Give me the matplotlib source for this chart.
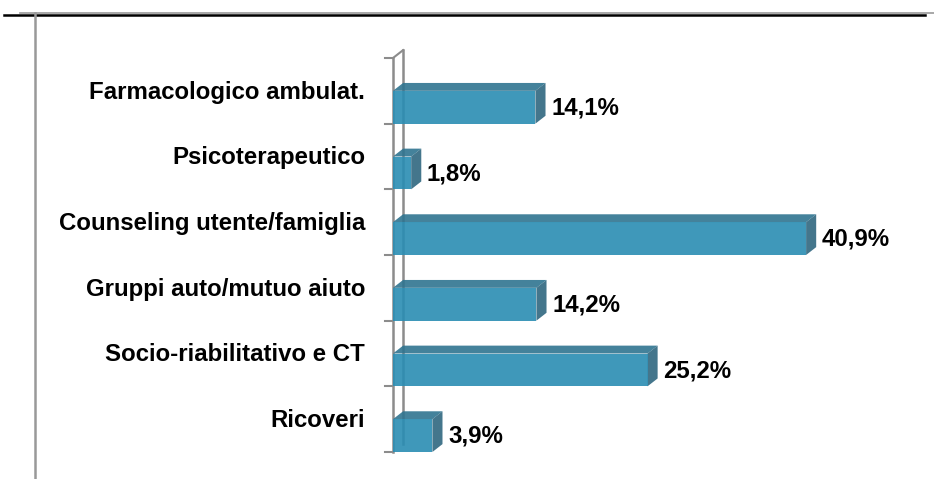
import matplotlib
matplotlib.use("Agg")
import matplotlib.pyplot as plt
from matplotlib.patches import Polygon, Rectangle
from matplotlib.lines import Line2D

# dati (dal basso verso l'alto)
categorie = ["Ricoveri", "Socio-riabilitativo e CT", "Gruppi auto/mutuo aiuto",
             "Counseling utente/famiglia", "Psicoterapeutico", "Farmacologico ambulat."]
valori = [3.9, 25.2, 14.2, 40.9, 1.8, 14.1]
etichette = ["3,9%", "25,2%", "14,2%", "40,9%", "1,8%", "14,1%"]

c_fronte = "#2a8db3"
c_sopra = "#2f7490"
c_lato = "#2f6780"
c_muro = "#8c8c8c"
font = ["Liberation Sans", "DejaVu Sans"]

W, H = 934, 479
fig = plt.figure(figsize=(W / 100, H / 100), dpi=100)

# cornice esterna (solo decorazione)
fig.add_artist(Line2D([20 / W, 1], [1 - 13 / H] * 2, color="#999999", lw=1.2))
fig.add_artist(Line2D([4 / W, 925 / W], [1 - 15 / H] * 2, color="black", lw=1.8))
fig.add_artist(Line2D([35 / W] * 2, [0, 1 - 13 / H], color="#999999", lw=1.8))

ax = fig.add_axes([393 / W, 1 - 452 / H, 505 / W, 394 / H])
ax.set_xlim(0, 50)
ax.set_ylim(0, 6)
ax.axis("off")

dx, dy, h = 1.0, 0.12, 0.5

# parete di fondo 3D
ax.plot([0, 0], [0, 6], color=c_muro, lw=1.8, zorder=1, clip_on=False)
ax.plot([dx, dx], [dy, 6 + dy], color=c_muro, lw=1.8, zorder=1, clip_on=False)
ax.plot([0, dx], [6, 6 + dy], color=c_muro, lw=1.5, zorder=1, clip_on=False)
for k in range(7):
    ax.plot([-0.8, 0], [k, k], color=c_muro, lw=1.5, zorder=1, clip_on=False)

for i, (v, lab, cat) in enumerate(zip(valori, etichette, categorie)):
    ax.add_patch(Polygon([(0, i + h), (dx, i + h + dy), (v + dx, i + h + dy), (v, i + h)],
                         closed=True, fc=c_sopra, ec="none", alpha=0.9, zorder=2))
    ax.add_patch(Polygon([(v, i), (v + dx, i + dy), (v + dx, i + h + dy), (v, i + h)],
                         closed=True, fc=c_lato, ec="none", alpha=0.9, zorder=2))
    ax.add_patch(Rectangle((0, i), v, h, fc=c_fronte, ec="none", alpha=0.9, zorder=3))
    ax.annotate(lab, xy=(v + dx, i + 0.24), xytext=(4, 0), textcoords="offset points",
                ha="left", va="center", fontsize=17.3, fontweight="bold", family=font)
    ax.annotate(cat, xy=(0, i + 0.48), xytext=(-20, 0), textcoords="offset points",
                ha="right", va="center", fontsize=17.3, fontweight="bold", family=font)

fig.savefig("out.png", dpi=100)
